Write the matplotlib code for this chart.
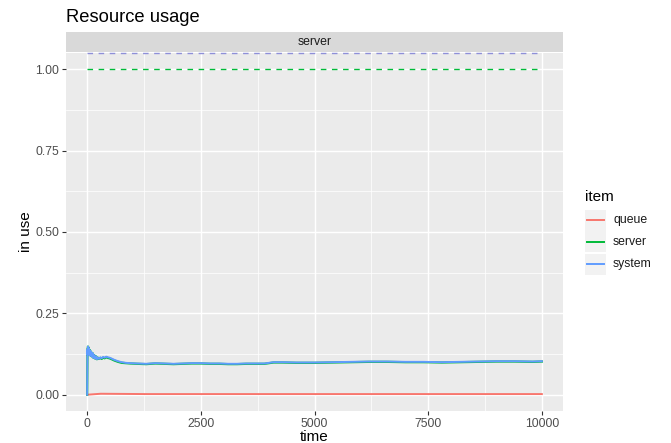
import matplotlib
matplotlib.use("Agg")
import matplotlib.pyplot as plt
import matplotlib.ticker as ticker
from matplotlib.patches import Rectangle
from matplotlib.lines import Line2D

plt.rcParams['font.family'] = ['Liberation Sans', 'DejaVu Sans']

# usage of the "server" resource over simulated time
t = [0, 8, 12, 18, 24, 30, 36, 42, 50, 58, 66, 75, 85, 95, 110, 125, 140,
     155, 175, 195, 215, 235, 260, 290, 320, 350, 385, 420, 455, 490, 540,
     600, 680, 760, 850, 950, 1100, 1300, 1500, 1700, 1900, 2100, 2300, 2500,
     2700, 2900, 3100, 3300, 3500, 3700, 3900, 4100, 4300, 4600, 5000, 5400,
     5800, 6200, 6600, 7000, 7400, 7800, 8200, 8600, 9000, 9400, 9800, 10000]
system = [0, 0.140, 0.122, 0.148, 0.130, 0.145, 0.126, 0.140, 0.124, 0.137,
          0.121, 0.134, 0.119, 0.130, 0.117, 0.127, 0.113, 0.122, 0.111, 0.118,
          0.109, 0.114, 0.110, 0.115, 0.112, 0.116, 0.114, 0.117, 0.115, 0.114,
          0.111, 0.107, 0.103, 0.100, 0.098, 0.097, 0.096, 0.095, 0.097, 0.096,
          0.095, 0.096, 0.097, 0.097, 0.096, 0.096, 0.095, 0.095, 0.096, 0.096,
          0.096, 0.100, 0.100, 0.099, 0.099, 0.100, 0.101, 0.102, 0.102, 0.101,
          0.101, 0.100, 0.101, 0.102, 0.103, 0.103, 0.102, 0.103]
server = [0, 0.140, 0.122, 0.148, 0.130, 0.145, 0.126, 0.140, 0.124, 0.137,
          0.121, 0.134, 0.119, 0.130, 0.117, 0.127, 0.113, 0.122, 0.111, 0.118,
          0.109, 0.114, 0.110, 0.113, 0.110, 0.114, 0.112, 0.115, 0.113, 0.112,
          0.109, 0.105, 0.101, 0.098, 0.097, 0.096, 0.095, 0.094, 0.096, 0.095,
          0.094, 0.095, 0.096, 0.096, 0.095, 0.095, 0.094, 0.094, 0.095, 0.095,
          0.095, 0.099, 0.099, 0.098, 0.098, 0.099, 0.100, 0.101, 0.101, 0.100,
          0.100, 0.099, 0.100, 0.101, 0.102, 0.102, 0.101, 0.102]
t_queue = [0, 300, 1300, 4000, 10000]
queue = [0, 0.003, 0.002, 0.002, 0.002]

server_capacity = 1.0
items = ["queue", "server", "system"]
colors = {"queue": "#F8766D", "server": "#00BA38", "system": "#619CFF"}

W, H = 671, 443
fig = plt.figure(figsize=(W / 100, H / 100), dpi=100)
ax = fig.add_axes([66 / W, 1 - 411 / H, 497 / W, 358 / H])
ax.set_facecolor("#EBEBEB")

ax.set_xlim(-465, 10465)
ax.set_ylim(-0.05, 1.05)
ax.xaxis.set_major_locator(ticker.MultipleLocator(2500))
ax.xaxis.set_minor_locator(ticker.MultipleLocator(1250))
ax.yaxis.set_major_locator(ticker.MultipleLocator(0.25))
ax.yaxis.set_minor_locator(ticker.MultipleLocator(0.125))
ax.yaxis.set_major_formatter(ticker.FormatStrFormatter("%.2f"))
ax.grid(which="major", color="white", linewidth=1.07)
ax.grid(which="minor", color="white", linewidth=0.53)
ax.set_axisbelow(True)
for s in ax.spines.values():
    s.set_visible(False)
ax.tick_params(which="major", length=2.75, width=0.8, color="#333333",
               labelcolor="#4D4D4D", labelsize=8.8, pad=2)
ax.tick_params(which="minor", length=0)

# capacity limits
ax.hlines(server_capacity, 0, 10000, color=colors["server"], linestyles=(0, (4, 4)), linewidth=1.0)
ax.hlines(1.05, 0, 10000, color="#8E8FD8", linestyles=(0, (4, 4)), linewidth=1.0, clip_on=False)

ax.plot(t_queue, queue, color=colors["queue"], linewidth=1.4)
ax.plot(t, server, color=colors["server"], linewidth=1.6)
ax.plot(t, system, color=colors["system"], linewidth=1.4)

ax.set_xlabel("time", fontsize=11, labelpad=0)
ax.set_ylabel("in use", fontsize=11, labelpad=2)

# facet strip
fig.patches.append(Rectangle((66 / W, 1 - 52 / H), 497 / W, 20 / H,
                             transform=fig.transFigure, facecolor="#D9D9D9", edgecolor="none"))
fig.text((66 + 497 / 2) / W, 1 - 42 / H, "server", ha="center", va="center",
         fontsize=8.8, color="#1A1A1A")
fig.text(66 / W, 1 - 17 / H, "Resource usage", ha="left", va="center", fontsize=13.2)

# legend: title, grey key boxes, coloured lines, labels
fig.text(585 / W, 1 - 197 / H, "item", ha="left", va="center", fontsize=11)
for i, name in enumerate(items):
    yc = 220 + 22 * i
    fig.patches.append(Rectangle((585 / W, 1 - (yc + 10.5) / H), 21 / W, 21 / H,
                                 transform=fig.transFigure, facecolor="#F2F2F2", edgecolor="none"))
    fig.lines.append(Line2D([587 / W, 604 / W], [1 - yc / H, 1 - yc / H],
                            transform=fig.transFigure, color=colors[name], linewidth=1.4))
    fig.text(613 / W, 1 - yc / H, name, ha="left", va="center", fontsize=8.8, color="#1A1A1A")

fig.savefig("out.png", dpi=100)
